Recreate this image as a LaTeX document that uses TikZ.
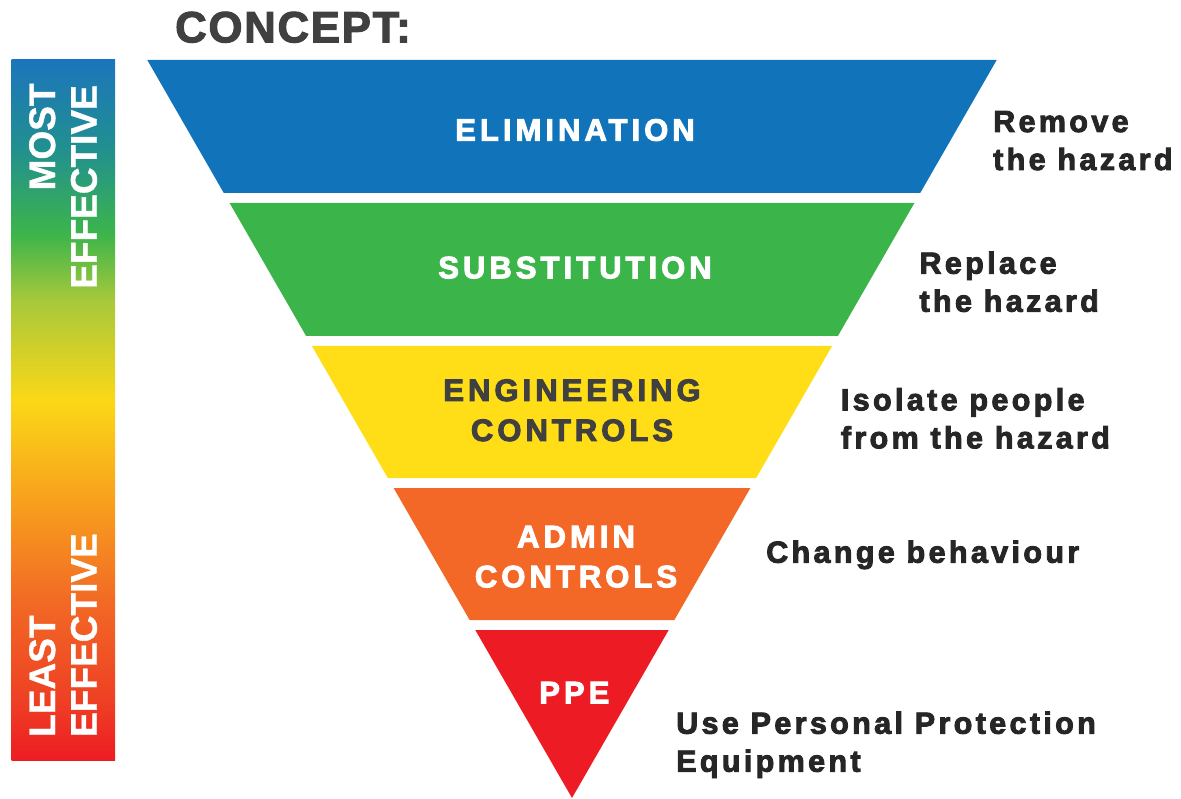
\documentclass[tikz,border=0pt]{standalone}
\usepackage{fontspec}
\setmainfont{Liberation Sans}
\newfontfamily\bandfont[LetterSpace=13,FakeBold=3.2]{Liberation Sans Bold}
\newfontfamily\notefont[LetterSpace=11,FakeBold=3]{Liberation Sans Bold}
\newfontfamily\titlefont[LetterSpace=4,FakeBold=2.5]{Liberation Sans Bold}
\newfontfamily\barfont[FakeBold=1]{Liberation Sans Bold}
\definecolor{elimblue}{HTML}{1174BB}
\definecolor{subgreen}{HTML}{3BB54A}
\definecolor{engyellow}{HTML}{FFDD17}
\definecolor{admorange}{HTML}{F36826}
\definecolor{ppered}{HTML}{ED1C24}
\definecolor{darkgray}{HTML}{404041}
\definecolor{notegray}{HTML}{262626}
\definecolor{barblue}{HTML}{1C75BC}
\definecolor{barteal}{HTML}{21908F}
\definecolor{bargreen}{HTML}{3DB54A}
\definecolor{barlime}{HTML}{A6C83B}
\definecolor{baryellow}{HTML}{FBD817}
\definecolor{baramber}{HTML}{F8A11D}
\definecolor{barorange}{HTML}{F26A25}
\definecolor{barredor}{HTML}{EE4024}
\definecolor{barred}{HTML}{ED1C24}
\pgfdeclareverticalshading{effbar}{100bp}{color(0bp)=(barred); color(25bp)=(barred); color(29.3bp)=(barredor); color(36.4bp)=(barorange); color(43.6bp)=(baramber); color(50.7bp)=(baryellow); color(57.9bp)=(barlime); color(62.5bp)=(bargreen); color(68.6bp)=(barteal); color(75bp)=(barblue); color(100bp)=(barblue)}
\tikzset{
  bandlabel/.style={inner sep=0pt, align=center, anchor=base, font=\bandfont\fontsize{31}{40}\selectfont},
  note/.style={inner sep=0pt, align=left, anchor=base west, text=notegray, font=\notefont\fontsize{30.5}{38}\selectfont},
  barlabel/.style={inner sep=0pt, rotate=90, text=white, font=\barfont\fontsize{37}{40}\selectfont},
}
\begin{document}
\begin{tikzpicture}[x=1pt,y=-1pt]
\useasboundingbox (0,0) rectangle (1181,799);
% gradient bar
\shade[shading=effbar] (11.5,60) rectangle (115,760);
\node[barlabel, anchor=base east] (most) at (55,83.3) {MOST};
\node[barlabel, anchor=base east] (effTop) at (96.7,85) {EFFECTIVE};
\node[barlabel, anchor=base west] (least) at (55,737) {LEAST};
\node[barlabel, anchor=base west] (effBot) at (96.7,737) {EFFECTIVE};
% title
\node[inner sep=0pt, anchor=base west, text=darkgray, font=\titlefont\fontsize{43.7}{50}\selectfont] (concept) at (175,42.3) {CONCEPT:};
% bands
\fill[elimblue]  (147.3,60) -- (996.7,60) -- (920.2,193) -- (223.8,193) -- cycle;
\fill[subgreen]  (229.6,203) -- (914.4,203) -- (837.9,336) -- (306.1,336) -- cycle;
\fill[engyellow] (311.9,346) -- (832.1,346) -- (756.2,478) -- (387.8,478) -- cycle;
\fill[admorange] (393.6,488) -- (750.4,488) -- (674.4,620) -- (469.6,620) -- cycle;
\fill[ppered]    (475.3,630) -- (668.7,630) -- (572,798) -- cycle;
% band labels (base = last line)
\node[bandlabel, text=white] (elim) at (575,140.7) {ELIMINATION};
\node[bandlabel, text=white] (subst) at (575,278.3) {SUBSTITUTION};
\node[bandlabel, text=darkgray] (eng) at (572,441) {ENGINEERING\\CONTROLS};
\node[bandlabel, text=white] (admin) at (576,587.3) {ADMIN\\CONTROLS};
\node[bandlabel, text=white] (ppe) at (574.3,703.3) {PPE};
% notes (base = last line)
\node[note] (remove) at (993,170) {Remove\\the hazard};
\node[note] (replace) at (919.3,311.7) {Replace\\the hazard};
\node[note] (isolate) at (840.7,448.3) {Isolate people\\from the hazard};
\node[note] (change) at (766,562.7) {Change behaviour};
\node[note] (use) at (676,771.7) {Use Personal Protection\\Equipment};
\end{tikzpicture}
\end{document}
